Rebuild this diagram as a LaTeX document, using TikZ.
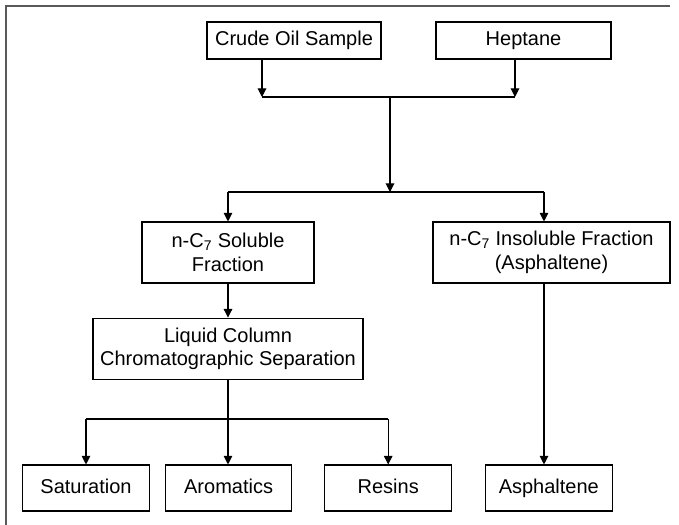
\documentclass[tikz,border=0pt]{standalone}
\usepackage{fontspec}
\setmainfont{Liberation Sans}
\usepackage{tikz}
\usetikzlibrary{positioning, arrows.meta}

\begin{document}
\begin{tikzpicture}[
        x=0.75pt, y=-0.75pt,
        font=\fontsize{15pt}{17.6pt}\selectfont,
        box/.style={draw, line width=0.8pt, align=center, inner sep=2pt, minimum height=27.75pt},
        input/.style={box, text height=10.8pt, text depth=3.2pt},
        frac/.style={box, minimum height=45.75pt},
        leaf/.style={input, minimum width=94.9pt, minimum height=34.5pt},
        arr/.style={line width=0.8pt, -{Triangle[length=6.5pt, width=6.5pt]}},
        link/.style={line width=0.8pt},
        frame/.style={line width=1.3pt, gray!70!black}
    ]
    \useasboundingbox (0,0) rectangle (679,525);

    % Frame (left and top edges only)
    \coordinate (fbl) at (6,525);
    \coordinate (ftl) at (6,6);
    \coordinate (ftr) at (670,6);
    \draw[frame] (fbl) -- (ftl) -- (ftr);

    % Inputs
    \node[input, minimum width=130.5pt] (crude) at (294,40.5) {Crude Oil Sample};
    \node[input, minimum width=131.25pt] (heptane) at (523.5,40.5) {Heptane};

    % Fractions
    \node[frac, minimum width=129pt] (soluble) at (228,252.5) {n-C\textsubscript{7} Soluble\\Fraction};
    \node[frac, minimum width=177.75pt] (insoluble) at (551.5,252.5) {n-C\textsubscript{7} Insoluble Fraction\\(Asphaltene)};

    % Separation
    \node[frac, minimum width=202.5pt, below=25.5pt of soluble] (liquid) {Liquid Column\\Chromatographic Separation};

    % Products
    \node[leaf] (saturation) at (86,488) {Saturation};
    \node[leaf, right=11.25pt of saturation] (aromatics) {Aromatics};
    \node[leaf, right=24pt of aromatics] (resins) {Resins};
    \node[leaf, right=24.75pt of resins] (asphaltene) {Asphaltene};

    % Junction points
    \coordinate (j1l) at (262,97);
    \coordinate (j1m) at (390,97);
    \coordinate (j1r) at (515,97);
    \coordinate (j2) at (390,192);
    \coordinate (j2r) at (544,192);
    \coordinate (j3) at (228,419);

    % Mixing
    \draw[arr] (crude.south -| j1l) -- (j1l);
    \draw[arr] (heptane.south -| j1r) -- (j1r);
    \draw[link] (j1l) -- (j1r);
    \draw[arr] (j1m) -- (j2);

    % Split into fractions
    \draw[link] (soluble.north |- j2) -- (j2r);
    \draw[arr] (soluble.north |- j2) -- (soluble.north);
    \draw[arr] (j2r) -- (insoluble.north -| j2r);

    % Soluble branch
    \draw[arr] (soluble.south) -- (liquid.north);
    \draw[arr] (liquid.south) -- (liquid.south |- aromatics.north);
    \draw[link] (saturation.north |- j3) -- (resins.north |- j3);
    \draw[arr] (saturation.north |- j3) -- (saturation.north);
    \draw[arr] (resins.north |- j3) -- (resins.north);

    % Insoluble branch
    \draw[arr] (insoluble.south -| j2r) -- (asphaltene.north -| j2r);

\end{tikzpicture}
\end{document}
